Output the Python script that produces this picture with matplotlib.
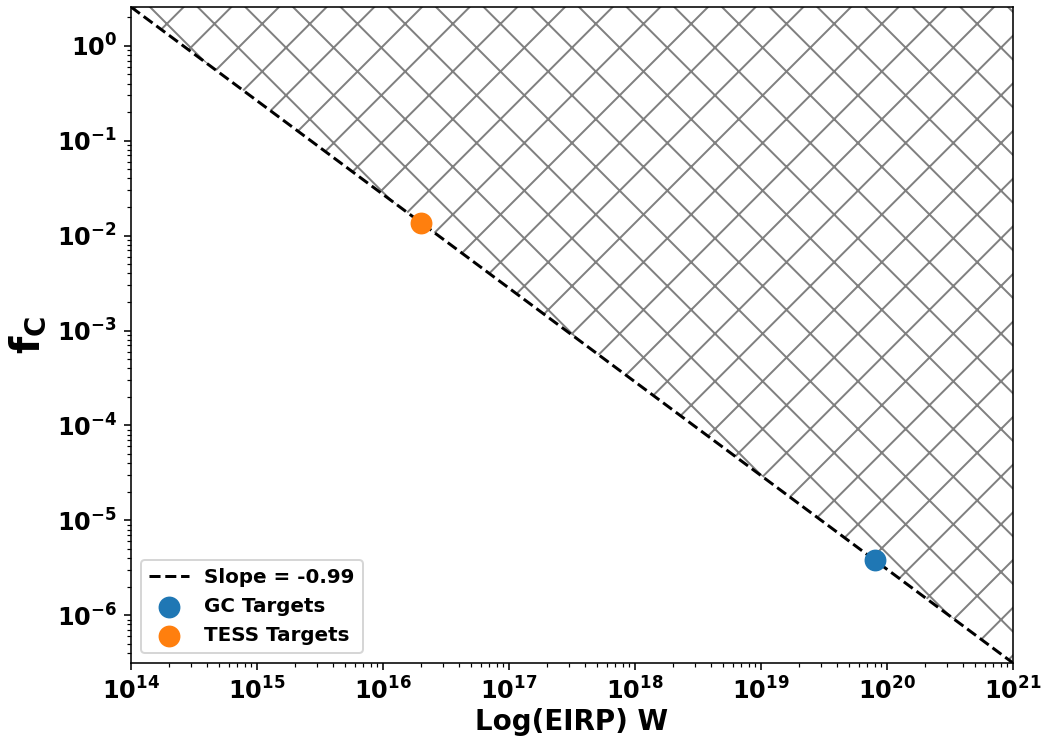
import numpy as np
import matplotlib
matplotlib.use('Agg')
from matplotlib import pyplot as plt

# target data (EIRP in W, fraction f_c)
gc_eirp = [8.0e19]
gc_fc = [3.8e-6]
tess_eirp = [2.0e16]
tess_fc = [1.37e-2]
x_range = [1e14, 1e21]

# slope of the limit line in log-log space
lx = np.log10(gc_eirp + tess_eirp)
ly = np.log10(gc_fc + tess_fc)
slope, icpt = np.polyfit(lx, ly, 1)

xs = np.logspace(np.log10(x_range[0]), np.log10(x_range[1]), 200)
ys = 10 ** (icpt + slope * np.log10(xs))

dpi = 143
fig = plt.figure(figsize=(1046 / dpi, 742 / dpi), dpi=dpi)
ax = fig.add_axes([131 / 1046, 1 - 663 / 742, 882 / 1046, 656 / 742])

ax.fill_between(xs, ys, ys.max(), facecolor='none', edgecolor='gray',
                hatch='x', linewidth=0)
ax.plot(xs, ys, 'k--', lw=1.5, label=f'Slope = {slope:.2f}')
ax.scatter(gc_eirp, gc_fc, s=100, color='tab:blue', label='GC Targets', zorder=3)
ax.scatter(tess_eirp, tess_fc, s=100, color='tab:orange', label='TESS Targets', zorder=3)

ax.set_xscale('log')
ax.set_yscale('log')
ax.set_xlim(x_range)
ax.set_ylim(ys.min(), ys.max())

ax.set_xlabel('Log(EIRP) W', fontsize=14, fontweight='bold', labelpad=2)
ax.set_ylabel(r'$\mathbf{f_C}$', fontsize=20, fontweight='bold', labelpad=4)
plt.xticks(fontsize=12, fontweight='bold')
plt.yticks(fontsize=12, fontweight='bold')
ax.legend(loc='lower left', prop={'size': 10, 'weight': 'bold'})

fig.savefig('out.png', dpi=dpi)
